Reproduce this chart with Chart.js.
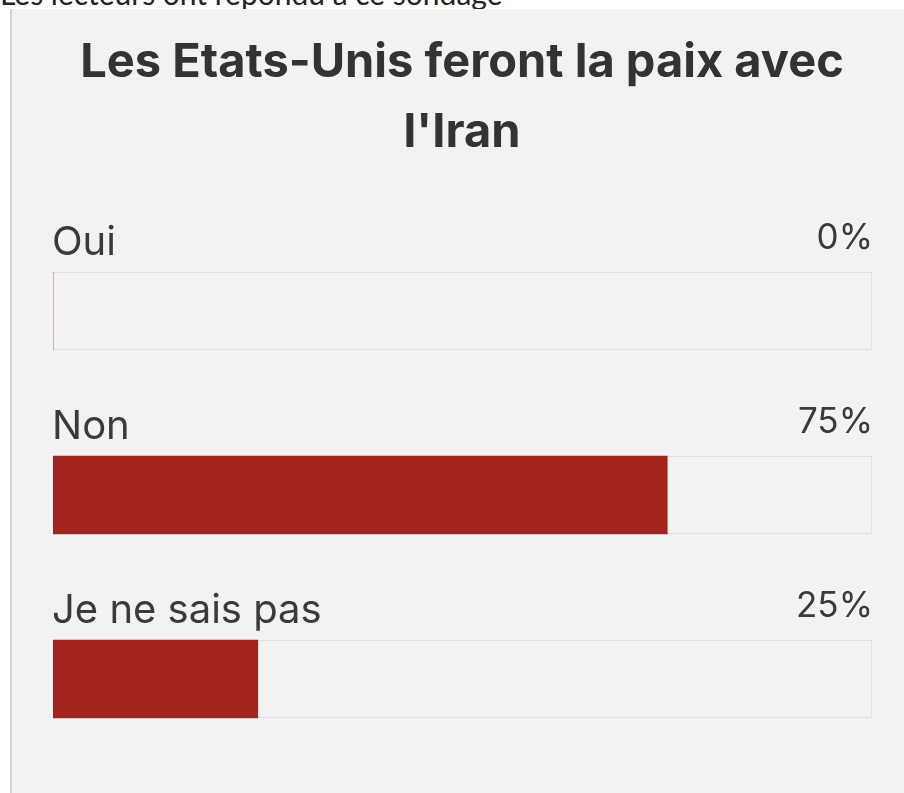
<!DOCTYPE html>
<html>
<head>
<meta charset="utf-8">
<script src="https://cdn.jsdelivr.net/npm/chart.js@4.4.1/dist/chart.umd.min.js"></script>
<style>
  html, body { margin: 0; padding: 0; background: #ffffff; width: 904px; height: 793px; overflow: hidden; }
  #caption { position: absolute; left: 0; top: -22px; font-family: Lato, "Open Sans", sans-serif; font-size: 30px; color: #222; white-space: nowrap; line-height: 30px; }
  #panel { position: absolute; left: 10px; top: 9px; width: 892px; height: 784px; background: #f2f2f2; border-left: 2px solid #d2d2d2; }
  #wrap { position: absolute; left: 0; top: 0; width: 892px; height: 784px; }
</style>
</head>
<body>
<div id="caption">Les lecteurs ont répondu à ce sondage</div>
<div id="panel"><div id="wrap"><canvas id="c" width="892" height="784"></canvas></div></div>
<script>
const titleLines = ["Les Etats-Unis feront la paix avec", "l'Iran"];
const categories = ["Oui", "Non", "Je ne sais pas"];
const percentages = [0, 75, 25];
const fullScale = [100, 100, 100];

const labelPlugin = {
  id: 'pollLabels',
  afterDatasetsDraw(chart) {
    const ctx = chart.ctx;
    const track = chart.getDatasetMeta(1).data;
    ctx.save();
    ctx.fillStyle = '#333333';
    ctx.font = 'bold 47px Inter';
    ctx.textAlign = 'center';
    ctx.textBaseline = 'alphabetic';
    const cx = 450;
    ctx.fillText(titleLines[0], cx, 68);
    ctx.fillText(titleLines[1], cx, 138);
    track.forEach((el, i) => {
      const top = el.y - el.height / 2;
      const left = Math.min(el.base, el.x);
      const right = Math.max(el.base, el.x);
      ctx.fillStyle = '#3a3a3a';
      ctx.font = '40px Inter';
      ctx.textAlign = 'left';
      ctx.fillText(categories[i], left - 1, top - 17);
      ctx.font = '35px Inter';
      ctx.textAlign = 'right';
      ctx.fillText(percentages[i] + '%', right + 1, top - 23);
    });
    ctx.restore();
  }
};

new Chart(document.getElementById('c'), {
  type: 'bar',
  data: {
    labels: categories,
    datasets: [
      {
        data: percentages,
        backgroundColor: '#a0241c',
        borderWidth: 0,
        barThickness: 78,
        grouped: false
      },
      {
        data: fullScale,
        backgroundColor: '#f2f2f2',
        borderColor: '#d9d9d9',
        borderWidth: 1,
        barThickness: 78,
        grouped: false
      }
    ]
  },
  options: {
    indexAxis: 'y',
    responsive: false,
    animation: false,
    events: [],
    layout: { padding: { top: 210, bottom: 22, left: 41, right: 32 } },
    scales: {
      x: { display: false, min: 0, max: 100 },
      y: { display: false }
    },
    plugins: { legend: { display: false }, title: { display: false }, tooltip: { enabled: false } }
  },
  plugins: [labelPlugin]
});
</script>
</body>
</html>
